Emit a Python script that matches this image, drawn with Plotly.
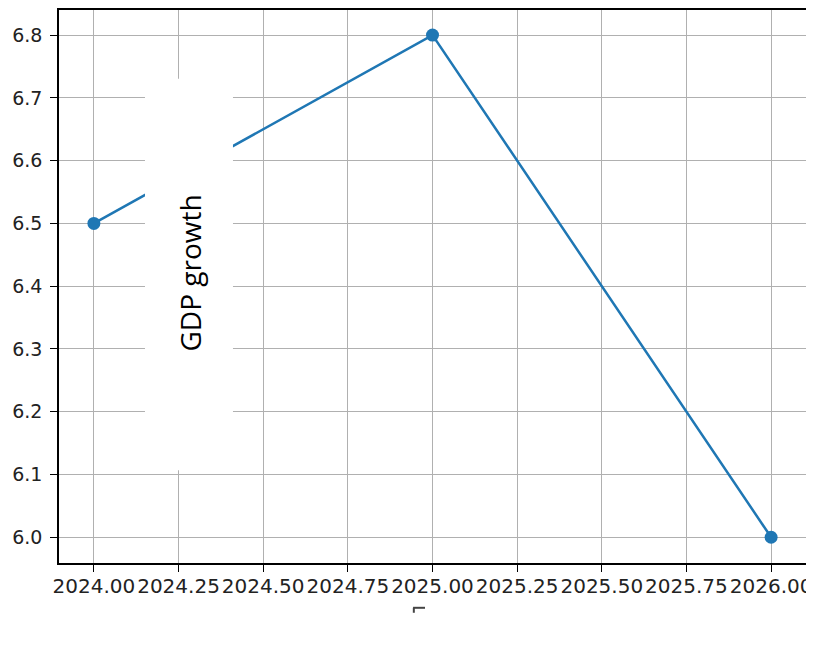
import plotly.graph_objects as go

years = [2024, 2025, 2026]
gdp_growth = [6.5, 6.8, 6.0]
x_ticks = [2024.0, 2024.25, 2024.5, 2024.75, 2025.0, 2025.25, 2025.5, 2025.75, 2026.0]
y_ticks = [6.0, 6.1, 6.2, 6.3, 6.4, 6.5, 6.6, 6.7, 6.8]
label_text = "GDP growth"

fig = go.Figure()
fig.add_trace(go.Scatter(
    x=years, y=gdp_growth, mode="lines+markers",
    line=dict(color="#1f77b4", width=2.5),
    marker=dict(color="#1f77b4", size=13),
    showlegend=False,
))

axis_common = dict(
    showgrid=True, gridcolor="#b0b0b0", gridwidth=1,
    showline=True, linecolor="black", linewidth=1.5, mirror=True,
    ticks="outside", ticklen=7, tickwidth=1.2, tickcolor="black",
    zeroline=False,
)

fig.update_xaxes(
    range=[2023.897, 2026.103],
    tickvals=x_ticks, ticktext=[f"{v:.2f}" for v in x_ticks],
    tickfont=dict(family="DejaVu Sans", size=20, color="#222222"),
    tickangle=0, ticklabeloverflow="allow", ticklabelstandoff=-3,
    **axis_common,
)
fig.update_yaxes(
    range=[5.959, 6.84],
    tickvals=y_ticks, ticktext=[f"{v:.1f}" for v in y_ticks],
    tickfont=dict(family="DejaVu Sans", size=19, color="#222222"),
    ticklabelstandoff=4,
    **axis_common,
)

# white box covering part of the plot, with the rotated label
fig.add_shape(type="rect", xref="paper", yref="paper",
              x0=0.1151, x1=0.2329, y0=0.1676, y1=0.8757,
              fillcolor="white", line=dict(width=0), layer="above")
fig.add_annotation(text=label_text, xref="paper", yref="paper",
                   x=0.147, y=0.525, showarrow=False, textangle=-90,
                   font=dict(family="Open Sans", size=28, color="black"))

# clipped remnant of the x-axis title
fig.add_shape(type="line", xref="paper", yref="paper",
              x0=0.474, x1=0.490, y0=-0.081, y1=-0.081,
              line=dict(color="#444444", width=2))
fig.add_shape(type="line", xref="paper", yref="paper",
              x0=0.475, x1=0.475, y0=-0.081, y1=-0.090,
              line=dict(color="#444444", width=2))

fig.update_layout(
    width=814, height=648,
    margin=dict(l=51, r=16, t=0, b=93),
    paper_bgcolor="white", plot_bgcolor="white",
)

fig.write_html("out.html")
